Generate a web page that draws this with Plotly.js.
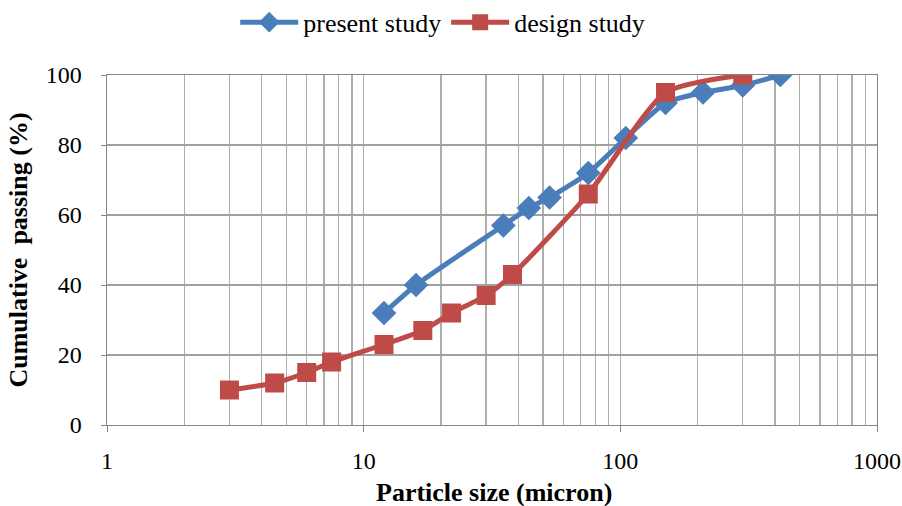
<!DOCTYPE html>
<html><head><meta charset="utf-8">
<script src="https://cdn.plot.ly/plotly-3.0.1.min.js"></script>
<style>html,body{margin:0;padding:0;background:#fff;}#chart{width:902px;height:506px;}</style>
</head><body><div id="chart"></div>
<script>
const presentSize = [12, 16, 35, 44, 53, 75, 105, 150, 210, 300, 420];
const presentPassing = [32, 40, 57, 62, 65, 72, 82, 92, 95, 97, 100];
const designSize = [3, 4.5, 6, 7.5, 12, 17, 22, 30, 38, 75, 150, 300];
const designPassing = [10, 12, 15, 18, 23, 27, 32, 37, 43, 66, 95, 100];
const xTickVals = [1, 10, 100, 1000];
const xTickText = ['1', '10', '100', '1000'];
const yTickVals = [0, 20, 40, 60, 80, 100];

const font = 'Liberation Serif, Times New Roman, serif';
const traces = [
  {x: presentSize, y: presentPassing, name: 'present study', mode: 'lines+markers',
   line: {color: '#4A7EBB', width: 5, shape: 'spline', smoothing: 0.6},
   marker: {symbol: 'diamond', size: 19, color: '#4A7EBB'}},
  {x: designSize, y: designPassing, name: 'design study', mode: 'lines+markers',
   line: {color: '#BE4B48', width: 5, shape: 'spline', smoothing: 0.6},
   marker: {symbol: 'square', size: 19, color: '#BE4B48'}}
];
const layout = {
  width: 902, height: 506,
  margin: {l: 107, r: 25, t: 75, b: 81},
  paper_bgcolor: '#fff', plot_bgcolor: '#fff',
  font: {family: font, size: 24, color: '#000'},
  showlegend: true,
  legend: {orientation: 'h', x: 0.436, xanchor: 'center', yref: 'container', y: 0.956, yanchor: 'middle',
           font: {family: font, size: 26}, itemwidth: 58, tracegroupgap: 0},
  xaxis: {type: 'log', range: [0, 3], tickvals: xTickVals, ticktext: xTickText,
          showgrid: true, gridcolor: '#AEAEAE', gridwidth: 1.4,
          minor: {dtick: 'D1', showgrid: true, gridcolor: '#AEAEAE', gridwidth: 1.4, ticks: ''},
          showline: true, linecolor: '#868686', linewidth: 1.4, mirror: true,
          ticks: 'outside', ticklen: 6, tickcolor: '#868686',
          ticklabelstandoff: 8, zeroline: false, tickfont: {family: font, size: 24}},
  yaxis: {range: [0, 100], tickvals: yTickVals, showgrid: true, gridcolor: '#A0A0A0', gridwidth: 1.4,
          showline: true, linecolor: '#868686', linewidth: 1.4, mirror: true,
          ticks: 'outside', ticklen: 5, tickcolor: '#868686', ticklabelstandoff: 14, zeroline: false,
          tickfont: {family: font, size: 24},
          title: {text: '<b>Cumulative&nbsp; passing (%)</b>', font: {family: font, size: 26}, standoff: 10}},
  annotations: [{text: '<b>Particle size (micron)</b>', xref: 'paper', yref: 'paper', x: 0.502, y: -0.193,
                 xanchor: 'center', yanchor: 'middle', showarrow: false, font: {family: font, size: 26}}]
};
Plotly.newPlot('chart', traces, layout, {displayModeBar: false, staticPlot: true});
</script></body></html>
